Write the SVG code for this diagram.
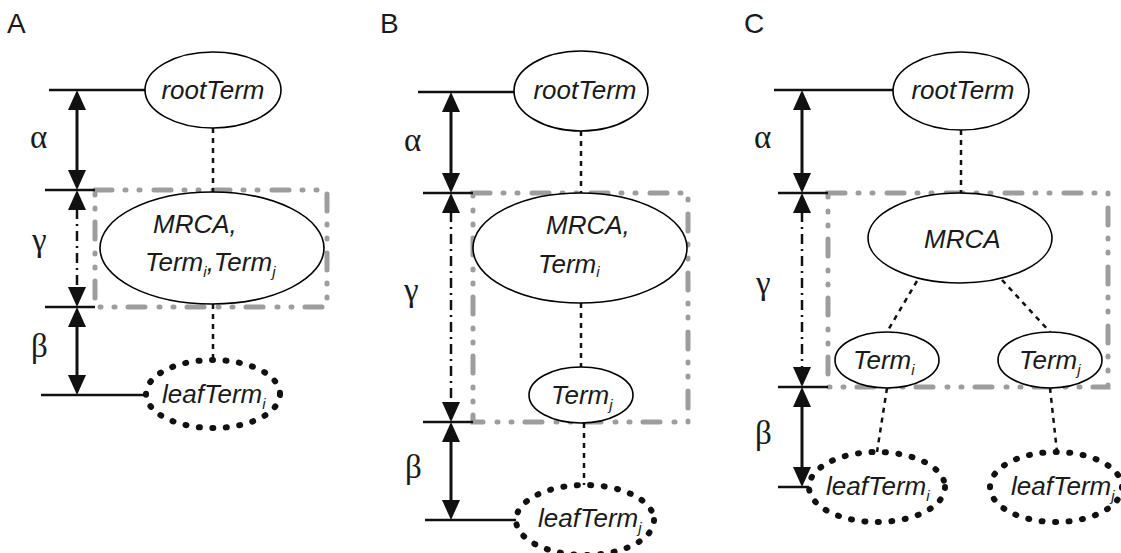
<svg xmlns="http://www.w3.org/2000/svg" width="1121" height="553" viewBox="0 0 1121 553">
<defs>
<style>
.bg{fill:#fff}
.node{fill:#fff;stroke:#000;stroke-width:1.6}
.leaf{fill:#fff;stroke:#111;stroke-width:6;stroke-dasharray:1 12.5;stroke-linecap:round}
.box{fill:none;stroke:#9d9d9d;stroke-width:5;stroke-dasharray:17 13 1 13 1 14;stroke-linecap:round}
.conn{stroke:#111;stroke-width:2.5;stroke-dasharray:5 5;fill:none}
.line{stroke:#111;stroke-width:2.5;fill:none}
.dim{stroke:#111;stroke-width:3;fill:none}
.dimg{stroke:#111;stroke-width:2.5;fill:none;stroke-dasharray:10 5 2 5}
.head{fill:#111}
.t{font-family:"Liberation Sans",Arial,sans-serif;font-style:italic;font-size:26px;fill:#1a1a1a}
.sub{font-size:15px}
.lab{font-family:"Liberation Sans",Arial,sans-serif;font-size:28px;fill:#1a1a1a}
.greek{font-family:"Liberation Serif","Times New Roman",serif;font-size:33px;fill:#1a1a1a}
</style>
</defs>
<rect class="bg" x="0" y="0" width="1121" height="553"/>

<!-- Panel labels -->
<text class="lab" x="7" y="33">A</text>
<text class="lab" x="380" y="33">B</text>
<text class="lab" x="744" y="33">C</text>

<!-- Greek labels -->
<text class="greek" x="30" y="148">α</text>
<text class="greek" x="32" y="251">γ</text>
<text class="greek" x="31" y="357">β</text>
<text class="greek" x="404" y="151">α</text>
<text class="greek" x="404" y="301">γ</text>
<text class="greek" x="405" y="478">β</text>
<text class="greek" x="754" y="148">α</text>
<text class="greek" x="756" y="294">γ</text>
<text class="greek" x="755" y="444">β</text>

<!-- Grouping boxes -->
<g id="boxes">
<rect class="box" x="95" y="190" width="232" height="117"/>
<rect class="box" x="473" y="193" width="215" height="229"/>
<rect class="box" x="828" y="193" width="280" height="194"/>
</g>

<!-- Connectors and dimension lines -->
<g id="connectors">
<!-- A -->
<line class="conn" x1="213" y1="128" x2="213" y2="192"/>
<line class="conn" x1="213" y1="304" x2="213" y2="360"/>
<line class="line" x1="49" y1="90" x2="145" y2="90"/>
<line class="line" x1="45" y1="190" x2="95" y2="190"/>
<line class="line" x1="45" y1="307" x2="95" y2="307"/>
<line class="line" x1="41" y1="395" x2="146" y2="395"/>
<line class="dim" x1="77" y1="100" x2="77" y2="180"/>
<line class="dimg" x1="77" y1="209" x2="77" y2="288"/>
<line class="dim" x1="77" y1="320" x2="77" y2="385"/>
<polygon class="head" points="77,90 68,110 86,110"/>
<polygon class="head" points="77,190 68,170 86,170"/>
<polygon class="head" points="77,190 68,210 86,210"/>
<polygon class="head" points="77,307 68,287 86,287"/>
<polygon class="head" points="77,307 68,327 86,327"/>
<polygon class="head" points="77,395 68,375 86,375"/>
<!-- B -->
<line class="conn" x1="581" y1="131" x2="581" y2="194"/>
<line class="conn" x1="581" y1="303" x2="581" y2="367"/>
<line class="conn" x1="584" y1="423" x2="584" y2="485"/>
<line class="line" x1="418" y1="92" x2="515" y2="92"/>
<line class="line" x1="423" y1="193" x2="473" y2="193"/>
<line class="line" x1="423" y1="422" x2="473" y2="422"/>
<line class="line" x1="425" y1="520" x2="517" y2="520"/>
<line class="dim" x1="451" y1="102" x2="451" y2="183"/>
<line class="dimg" x1="451" y1="212" x2="451" y2="403"/>
<line class="dim" x1="451" y1="432" x2="451" y2="510"/>
<polygon class="head" points="451,92 442,112 460,112"/>
<polygon class="head" points="451,193 442,173 460,173"/>
<polygon class="head" points="451,193 442,213 460,213"/>
<polygon class="head" points="451,422 442,402 460,402"/>
<polygon class="head" points="451,422 442,442 460,442"/>
<polygon class="head" points="451,520 442,500 460,500"/>
<!-- C -->
<line class="conn" x1="961" y1="130" x2="961" y2="194"/>
<line class="conn" x1="917" y1="281" x2="887" y2="332"/>
<line class="conn" x1="1002" y1="280" x2="1050" y2="332"/>
<line class="conn" x1="887" y1="388" x2="877" y2="452"/>
<line class="conn" x1="1050" y1="388" x2="1057" y2="452"/>
<line class="line" x1="774" y1="90" x2="893" y2="90"/>
<line class="line" x1="778" y1="193" x2="828" y2="193"/>
<line class="line" x1="778" y1="387" x2="828" y2="387"/>
<line class="line" x1="778" y1="487" x2="809" y2="487"/>
<line class="dim" x1="802" y1="100" x2="802" y2="183"/>
<line class="dimg" x1="802" y1="212" x2="802" y2="368"/>
<line class="dim" x1="802" y1="397" x2="802" y2="477"/>
<polygon class="head" points="802,90 793,110 811,110"/>
<polygon class="head" points="802,193 793,173 811,173"/>
<polygon class="head" points="802,193 793,213 811,213"/>
<polygon class="head" points="802,387 793,367 811,367"/>
<polygon class="head" points="802,387 793,407 811,407"/>
<polygon class="head" points="802,487 793,467 811,467"/>
</g>

<!-- Panel A nodes -->
<g id="A-root"><ellipse class="node" cx="213" cy="90" rx="68" ry="38"/><text class="t" x="213" y="99" text-anchor="middle">rootTerm</text></g>
<g id="A-mrca"><ellipse class="node" cx="212" cy="248" rx="112" ry="56"/><text class="t" x="153" y="233">MRCA,</text><text class="t" x="145" y="271">Term<tspan class="sub" dy="6">i</tspan><tspan dy="-6">,Term</tspan><tspan class="sub" dy="6">j</tspan></text></g>
<g id="A-leaf"><ellipse class="leaf" cx="213" cy="394" rx="67" ry="34"/><text class="t" x="162" y="403">leafTerm<tspan class="sub" dy="6">i</tspan></text></g>

<!-- Panel B nodes -->
<g id="B-root"><ellipse class="node" cx="581" cy="91" rx="67" ry="40"/><text class="t" x="585" y="99" text-anchor="middle">rootTerm</text></g>
<g id="B-mrca"><ellipse class="node" cx="580" cy="248" rx="107" ry="55"/><text class="t" x="546" y="234">MRCA,</text><text class="t" x="538" y="273">Term<tspan class="sub" dy="4">i</tspan></text></g>
<g id="B-termj"><ellipse class="node" cx="581" cy="395" rx="52" ry="28"/><text class="t" x="551" y="404">Term<tspan class="sub" dy="6">j</tspan></text></g>
<g id="B-leaf"><ellipse class="leaf" cx="585" cy="520" rx="69" ry="35"/><text class="t" x="538" y="527">leafTerm<tspan class="sub" dy="6">j</tspan></text></g>

<!-- Panel C nodes -->
<g id="C-root"><ellipse class="node" cx="961" cy="91" rx="68" ry="39"/><text class="t" x="963" y="99" text-anchor="middle">rootTerm</text></g>
<g id="C-mrca"><ellipse class="node" cx="960" cy="238" rx="92" ry="45"/><text class="t" x="924" y="248">MRCA</text></g>
<g id="C-termi"><ellipse class="node" cx="887" cy="360" rx="52" ry="28"/><text class="t" x="853" y="369">Term<tspan class="sub" dy="6">i</tspan></text></g>
<g id="C-termj"><ellipse class="node" cx="1050" cy="360" rx="52" ry="28"/><text class="t" x="1019" y="369">Term<tspan class="sub" dy="6">j</tspan></text></g>
<g id="C-leafi"><ellipse class="leaf" cx="877" cy="487" rx="68" ry="35"/><text class="t" x="826" y="495">leafTerm<tspan class="sub" dy="6">i</tspan></text></g>
<g id="C-leafj"><ellipse class="leaf" cx="1056" cy="487" rx="66" ry="35"/><text class="t" x="1011" y="495">leafTerm<tspan class="sub" dy="6">j</tspan></text></g>
</svg>
